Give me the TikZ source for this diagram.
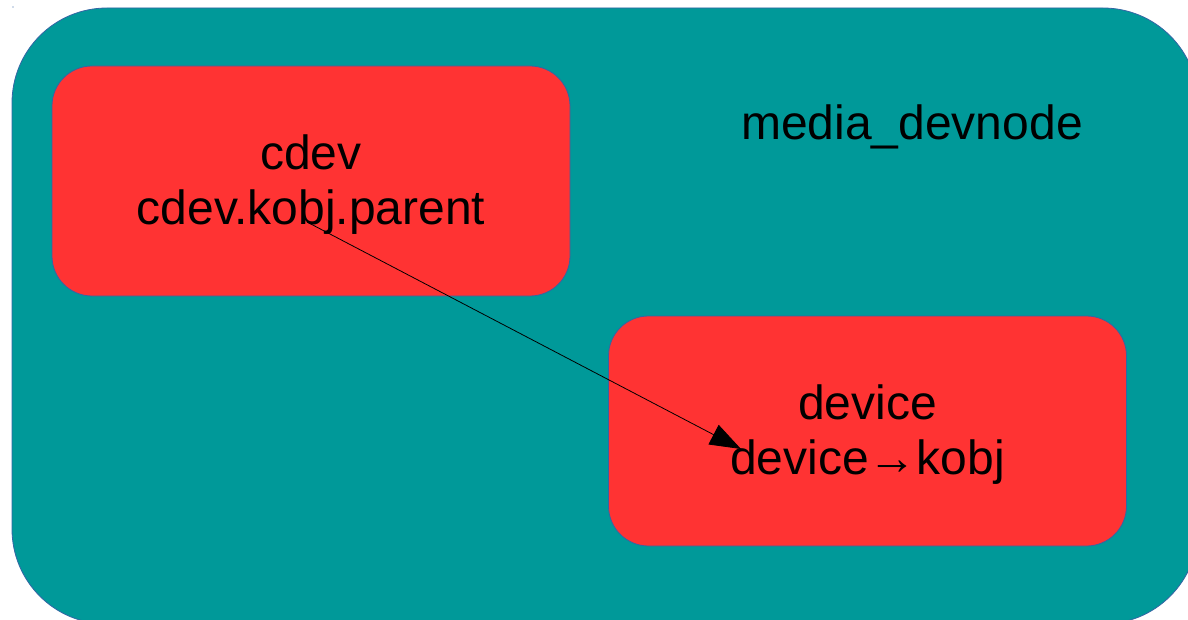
\documentclass[tikz,border=0pt]{standalone}
\usepackage{fontspec}
\setmainfont{Liberation Sans}
\usetikzlibrary{arrows.meta}
\definecolor{teal0}{HTML}{009999}
\definecolor{red0}{HTML}{FF3333}
\definecolor{edge0}{HTML}{3465A4}
\tikzset{
  outerbox/.style={draw=edge0, line width=0.8pt, fill=teal0, rounded corners=95pt},
  innerbox/.style={draw=edge0, line width=0.8pt, fill=red0, rounded corners=40pt,
    minimum width=518pt, minimum height=230pt, inner sep=0pt},
  label0/.style={font=\fontsize{48}{55}\selectfont, inner sep=0pt, align=center},
  link/.style={line width=0.8pt, -{Triangle[length=31pt,width=22pt]}}
}
\begin{document}
\begin{tikzpicture}[x=1pt,y=-1pt]
  \useasboundingbox (0,0) rectangle (1188,620);
  % container
  \draw[outerbox] (12,8) rectangle (1198,624);
  \fill[edge0] (13,7) circle (0.7pt);
  \node[label0] (title) at (912,127) {media\_devnode};
  % inner objects
  \node[innerbox, label={[label0,yshift=-4pt]center:cdev\\cdev.kobj.parent}] (cdev) at (311,181) {};
  \node[innerbox, label={[label0,yshift=-4pt]center:device\\device→kobj}] (device) at (867.5,431) {};
  % parent link
  \coordinate (from) at (307,222);
  \coordinate (to) at (741,449);
  \draw[link] (from) -- (to);
\end{tikzpicture}
\end{document}
